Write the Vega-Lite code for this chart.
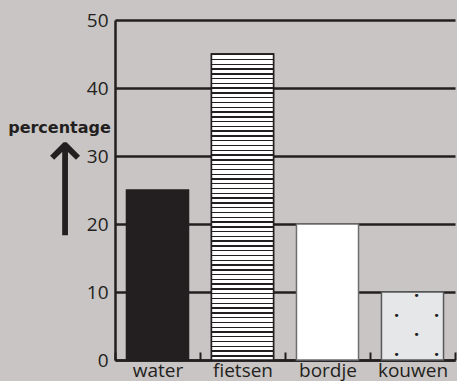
{
  "$schema": "https://vega.github.io/schema/vega-lite/v6.json",
  "width": 340,
  "height": 340,
  "autosize": "none",
  "padding": {"left": 115, "top": 20, "right": 2, "bottom": 21},
  "background": "#c9c5c4",
  "view": {"stroke": null},
  "data": {"values": [
    {"cat": "water", "value": 25},
    {"cat": "fietsen", "value": 45},
    {"cat": "bordje", "value": 20},
    {"cat": "kouwen", "value": 10}
  ]},
  "encoding": {
    "x": {
      "field": "cat", "type": "nominal", "sort": null,
      "scale": {"paddingInner": 0, "paddingOuter": 0},
      "axis": {
        "title": "⟶", "titleFont": "DejaVu Sans", "titleFontSize": 70, "titleFontWeight": "normal",
        "titleColor": "#231f20", "titleX": -50, "titleY": -171.5, "titleAlign": "center",
        "titleBaseline": "middle", "titleAngle": -90,
        "labelAngle": 0, "labelFont": "Open Sans", "labelFontSize": 19, "labelColor": "#231f20",
        "labelPadding": 9, "tickBand": "extent", "tickSize": -8, "tickWidth": 2, "tickColor": "#231f20",
        "domainColor": "#231f20", "domainWidth": 2.5, "grid": false
      }
    },
    "y": {
      "field": "value", "type": "quantitative",
      "scale": {"domain": [0, 50], "nice": false},
      "axis": {
        "title": "percentage", "titleFont": "DejaVu Sans", "titleFontSize": 16, "titleFontWeight": "bold",
        "titleColor": "#231f20", "titleAngle": 0, "titleAlign": "center", "titleBaseline": "alphabetic",
        "titleX": -56, "titleY": 112,
        "values": [0, 10, 20, 30, 40, 50], "ticks": false,
        "labelFont": "Open Sans", "labelFontSize": 19, "labelColor": "#231f20", "labelPadding": 7,
        "domainColor": "#231f20", "domainWidth": 2.5,
        "grid": true, "gridColor": "#231f20", "gridWidth": 2.5, "gridOpacity": 1
      }
    }
  },
  "layer": [
    {
      "mark": {"type": "bar", "width": {"band": 0.73}, "strokeWidth": 1.5},
      "encoding": {
        "fill": {"field": "cat", "type": "nominal", "legend": null,
          "scale": {"domain": ["water", "fietsen", "bordje", "kouwen"], "range": ["#231f20", "#ffffff", "#ffffff", "#e6e7e8"]}},
        "stroke": {"field": "cat", "type": "nominal", "legend": null,
          "scale": {"domain": ["water", "fietsen", "bordje", "kouwen"], "range": ["#231f20", "#231f20", "#6d6e71", "#58595b"]}}
      }
    },
    {
      "transform": [{"filter": "datum.cat === 'fietsen'"}],
      "mark": {"type": "bar", "width": {"band": 0.73}, "stroke": "#231f20", "strokeWidth": 1.5,
        "fill": {"gradient": "linear", "x1": 0, "y1": 0, "x2": 0, "y2": 1, "stops": [
{"offset":0,"color":"#231f20"},{"offset":0.0045,"color":"#231f20"},{"offset":0.0045,"color":"#fff"},{"offset":0.015625,"color":"#fff"},
{"offset":0.015625,"color":"#231f20"},{"offset":0.020125,"color":"#231f20"},{"offset":0.020125,"color":"#fff"},{"offset":0.03125,"color":"#fff"},
{"offset":0.03125,"color":"#231f20"},{"offset":0.03575,"color":"#231f20"},{"offset":0.03575,"color":"#fff"},{"offset":0.046875,"color":"#fff"},
{"offset":0.046875,"color":"#231f20"},{"offset":0.051375,"color":"#231f20"},{"offset":0.051375,"color":"#fff"},{"offset":0.0625,"color":"#fff"},
{"offset":0.0625,"color":"#231f20"},{"offset":0.067,"color":"#231f20"},{"offset":0.067,"color":"#fff"},{"offset":0.078125,"color":"#fff"},
{"offset":0.078125,"color":"#231f20"},{"offset":0.082625,"color":"#231f20"},{"offset":0.082625,"color":"#fff"},{"offset":0.09375,"color":"#fff"},
{"offset":0.09375,"color":"#231f20"},{"offset":0.09825,"color":"#231f20"},{"offset":0.09825,"color":"#fff"},{"offset":0.109375,"color":"#fff"},
{"offset":0.109375,"color":"#231f20"},{"offset":0.113875,"color":"#231f20"},{"offset":0.113875,"color":"#fff"},{"offset":0.125,"color":"#fff"},
{"offset":0.125,"color":"#231f20"},{"offset":0.1295,"color":"#231f20"},{"offset":0.1295,"color":"#fff"},{"offset":0.140625,"color":"#fff"},
{"offset":0.140625,"color":"#231f20"},{"offset":0.145125,"color":"#231f20"},{"offset":0.145125,"color":"#fff"},{"offset":0.15625,"color":"#fff"},
{"offset":0.15625,"color":"#231f20"},{"offset":0.16075,"color":"#231f20"},{"offset":0.16075,"color":"#fff"},{"offset":0.171875,"color":"#fff"},
{"offset":0.171875,"color":"#231f20"},{"offset":0.176375,"color":"#231f20"},{"offset":0.176375,"color":"#fff"},{"offset":0.1875,"color":"#fff"},
{"offset":0.1875,"color":"#231f20"},{"offset":0.192,"color":"#231f20"},{"offset":0.192,"color":"#fff"},{"offset":0.203125,"color":"#fff"},
{"offset":0.203125,"color":"#231f20"},{"offset":0.207625,"color":"#231f20"},{"offset":0.207625,"color":"#fff"},{"offset":0.21875,"color":"#fff"},
{"offset":0.21875,"color":"#231f20"},{"offset":0.22325,"color":"#231f20"},{"offset":0.22325,"color":"#fff"},{"offset":0.234375,"color":"#fff"},
{"offset":0.234375,"color":"#231f20"},{"offset":0.238875,"color":"#231f20"},{"offset":0.238875,"color":"#fff"},{"offset":0.25,"color":"#fff"},
{"offset":0.25,"color":"#231f20"},{"offset":0.2545,"color":"#231f20"},{"offset":0.2545,"color":"#fff"},{"offset":0.265625,"color":"#fff"},
{"offset":0.265625,"color":"#231f20"},{"offset":0.270125,"color":"#231f20"},{"offset":0.270125,"color":"#fff"},{"offset":0.28125,"color":"#fff"},
{"offset":0.28125,"color":"#231f20"},{"offset":0.28575,"color":"#231f20"},{"offset":0.28575,"color":"#fff"},{"offset":0.296875,"color":"#fff"},
{"offset":0.296875,"color":"#231f20"},{"offset":0.301375,"color":"#231f20"},{"offset":0.301375,"color":"#fff"},{"offset":0.3125,"color":"#fff"},
{"offset":0.3125,"color":"#231f20"},{"offset":0.317,"color":"#231f20"},{"offset":0.317,"color":"#fff"},{"offset":0.328125,"color":"#fff"},
{"offset":0.328125,"color":"#231f20"},{"offset":0.332625,"color":"#231f20"},{"offset":0.332625,"color":"#fff"},{"offset":0.34375,"color":"#fff"},
{"offset":0.34375,"color":"#231f20"},{"offset":0.34825,"color":"#231f20"},{"offset":0.34825,"color":"#fff"},{"offset":0.359375,"color":"#fff"},
{"offset":0.359375,"color":"#231f20"},{"offset":0.363875,"color":"#231f20"},{"offset":0.363875,"color":"#fff"},{"offset":0.375,"color":"#fff"},
{"offset":0.375,"color":"#231f20"},{"offset":0.3795,"color":"#231f20"},{"offset":0.3795,"color":"#fff"},{"offset":0.390625,"color":"#fff"},
{"offset":0.390625,"color":"#231f20"},{"offset":0.395125,"color":"#231f20"},{"offset":0.395125,"color":"#fff"},{"offset":0.40625,"color":"#fff"},
{"offset":0.40625,"color":"#231f20"},{"offset":0.41075,"color":"#231f20"},{"offset":0.41075,"color":"#fff"},{"offset":0.421875,"color":"#fff"},
{"offset":0.421875,"color":"#231f20"},{"offset":0.426375,"color":"#231f20"},{"offset":0.426375,"color":"#fff"},{"offset":0.4375,"color":"#fff"},
{"offset":0.4375,"color":"#231f20"},{"offset":0.442,"color":"#231f20"},{"offset":0.442,"color":"#fff"},{"offset":0.453125,"color":"#fff"},
{"offset":0.453125,"color":"#231f20"},{"offset":0.457625,"color":"#231f20"},{"offset":0.457625,"color":"#fff"},{"offset":0.46875,"color":"#fff"},
{"offset":0.46875,"color":"#231f20"},{"offset":0.47325,"color":"#231f20"},{"offset":0.47325,"color":"#fff"},{"offset":0.484375,"color":"#fff"},
{"offset":0.484375,"color":"#231f20"},{"offset":0.488875,"color":"#231f20"},{"offset":0.488875,"color":"#fff"},{"offset":0.5,"color":"#fff"},
{"offset":0.5,"color":"#231f20"},{"offset":0.5045,"color":"#231f20"},{"offset":0.5045,"color":"#fff"},{"offset":0.515625,"color":"#fff"},
{"offset":0.515625,"color":"#231f20"},{"offset":0.520125,"color":"#231f20"},{"offset":0.520125,"color":"#fff"},{"offset":0.53125,"color":"#fff"},
{"offset":0.53125,"color":"#231f20"},{"offset":0.53575,"color":"#231f20"},{"offset":0.53575,"color":"#fff"},{"offset":0.546875,"color":"#fff"},
{"offset":0.546875,"color":"#231f20"},{"offset":0.551375,"color":"#231f20"},{"offset":0.551375,"color":"#fff"},{"offset":0.5625,"color":"#fff"},
{"offset":0.5625,"color":"#231f20"},{"offset":0.567,"color":"#231f20"},{"offset":0.567,"color":"#fff"},{"offset":0.578125,"color":"#fff"},
{"offset":0.578125,"color":"#231f20"},{"offset":0.582625,"color":"#231f20"},{"offset":0.582625,"color":"#fff"},{"offset":0.59375,"color":"#fff"},
{"offset":0.59375,"color":"#231f20"},{"offset":0.59825,"color":"#231f20"},{"offset":0.59825,"color":"#fff"},{"offset":0.609375,"color":"#fff"},
{"offset":0.609375,"color":"#231f20"},{"offset":0.613875,"color":"#231f20"},{"offset":0.613875,"color":"#fff"},{"offset":0.625,"color":"#fff"},
{"offset":0.625,"color":"#231f20"},{"offset":0.6295,"color":"#231f20"},{"offset":0.6295,"color":"#fff"},{"offset":0.640625,"color":"#fff"},
{"offset":0.640625,"color":"#231f20"},{"offset":0.645125,"color":"#231f20"},{"offset":0.645125,"color":"#fff"},{"offset":0.65625,"color":"#fff"},
{"offset":0.65625,"color":"#231f20"},{"offset":0.66075,"color":"#231f20"},{"offset":0.66075,"color":"#fff"},{"offset":0.671875,"color":"#fff"},
{"offset":0.671875,"color":"#231f20"},{"offset":0.676375,"color":"#231f20"},{"offset":0.676375,"color":"#fff"},{"offset":0.6875,"color":"#fff"},
{"offset":0.6875,"color":"#231f20"},{"offset":0.692,"color":"#231f20"},{"offset":0.692,"color":"#fff"},{"offset":0.703125,"color":"#fff"},
{"offset":0.703125,"color":"#231f20"},{"offset":0.707625,"color":"#231f20"},{"offset":0.707625,"color":"#fff"},{"offset":0.71875,"color":"#fff"},
{"offset":0.71875,"color":"#231f20"},{"offset":0.72325,"color":"#231f20"},{"offset":0.72325,"color":"#fff"},{"offset":0.734375,"color":"#fff"},
{"offset":0.734375,"color":"#231f20"},{"offset":0.738875,"color":"#231f20"},{"offset":0.738875,"color":"#fff"},{"offset":0.75,"color":"#fff"},
{"offset":0.75,"color":"#231f20"},{"offset":0.7545,"color":"#231f20"},{"offset":0.7545,"color":"#fff"},{"offset":0.765625,"color":"#fff"},
{"offset":0.765625,"color":"#231f20"},{"offset":0.770125,"color":"#231f20"},{"offset":0.770125,"color":"#fff"},{"offset":0.78125,"color":"#fff"},
{"offset":0.78125,"color":"#231f20"},{"offset":0.78575,"color":"#231f20"},{"offset":0.78575,"color":"#fff"},{"offset":0.796875,"color":"#fff"},
{"offset":0.796875,"color":"#231f20"},{"offset":0.801375,"color":"#231f20"},{"offset":0.801375,"color":"#fff"},{"offset":0.8125,"color":"#fff"},
{"offset":0.8125,"color":"#231f20"},{"offset":0.817,"color":"#231f20"},{"offset":0.817,"color":"#fff"},{"offset":0.828125,"color":"#fff"},
{"offset":0.828125,"color":"#231f20"},{"offset":0.832625,"color":"#231f20"},{"offset":0.832625,"color":"#fff"},{"offset":0.84375,"color":"#fff"},
{"offset":0.84375,"color":"#231f20"},{"offset":0.84825,"color":"#231f20"},{"offset":0.84825,"color":"#fff"},{"offset":0.859375,"color":"#fff"},
{"offset":0.859375,"color":"#231f20"},{"offset":0.863875,"color":"#231f20"},{"offset":0.863875,"color":"#fff"},{"offset":0.875,"color":"#fff"},
{"offset":0.875,"color":"#231f20"},{"offset":0.8795,"color":"#231f20"},{"offset":0.8795,"color":"#fff"},{"offset":0.890625,"color":"#fff"},
{"offset":0.890625,"color":"#231f20"},{"offset":0.895125,"color":"#231f20"},{"offset":0.895125,"color":"#fff"},{"offset":0.90625,"color":"#fff"},
{"offset":0.90625,"color":"#231f20"},{"offset":0.91075,"color":"#231f20"},{"offset":0.91075,"color":"#fff"},{"offset":0.921875,"color":"#fff"},
{"offset":0.921875,"color":"#231f20"},{"offset":0.926375,"color":"#231f20"},{"offset":0.926375,"color":"#fff"},{"offset":0.9375,"color":"#fff"},
{"offset":0.9375,"color":"#231f20"},{"offset":0.942,"color":"#231f20"},{"offset":0.942,"color":"#fff"},{"offset":0.953125,"color":"#fff"},
{"offset":0.953125,"color":"#231f20"},{"offset":0.957625,"color":"#231f20"},{"offset":0.957625,"color":"#fff"},{"offset":0.96875,"color":"#fff"},
{"offset":0.96875,"color":"#231f20"},{"offset":0.97325,"color":"#231f20"},{"offset":0.97325,"color":"#fff"},{"offset":0.984375,"color":"#fff"},
{"offset":0.984375,"color":"#231f20"},{"offset":0.988875,"color":"#231f20"},{"offset":0.988875,"color":"#fff"},{"offset":1,"color":"#fff"}
        ]}
      }
    },
    {
      "transform": [{"filter": "datum.cat === 'kouwen'"}],
      "mark": {"type": "text", "font": "DejaVu Sans Mono", "fontSize": 11.1, "fontWeight": "normal",
        "align": "center", "baseline": "top", "lineHeight": 19.7, "dy": -2, "dx": 4, "color": "#231f20"},
      "encoding": {
        "text": {"value": ["\u00a0\u00a0\u00a0•\u00a0\u00a0\u00a0", "•\u00a0\u00a0\u00a0\u00a0\u00a0•", "\u00a0\u00a0\u00a0•\u00a0\u00a0\u00a0", "•\u00a0\u00a0\u00a0\u00a0\u00a0•"]}
      }
    }
  ]
}
